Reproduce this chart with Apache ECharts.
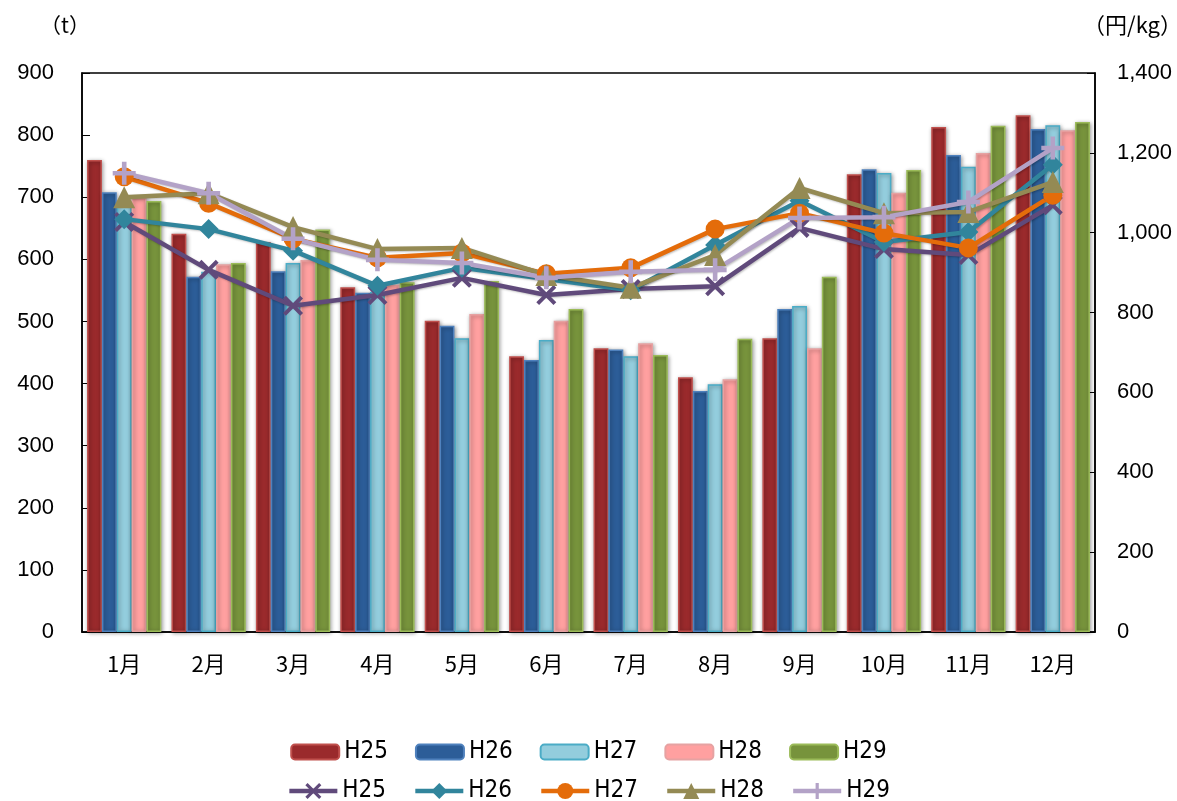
<!DOCTYPE html>
<html>
<head>
<meta charset="utf-8">
<script src="https://cdn.jsdelivr.net/npm/echarts@6/dist/echarts.min.js"></script>
<style>
  html, body { margin: 0; padding: 0; background: #fff; }
  #chart { width: 1177px; height: 801px; }
</style>
</head>
<body>
<div id="chart"></div>
<script>
// categories
const months = ['1月', '2月', '3月', '4月', '5月', '6月', '7月', '8月', '9月', '10月', '11月', '12月']
const years = ['H25', 'H26', 'H27', 'H28', 'H29']

// volume (t), left axis
const volH25 = [760, 641, 628, 555, 501, 444, 457, 410, 473, 737, 813, 832]
const volH26 = [708, 572, 581, 546, 493, 438, 455, 388, 520, 745, 768, 810]
const volH27 = [690, 580, 594, 548, 473, 470, 444, 399, 525, 739, 749, 816]
const volH28 = [700, 592, 599, 559, 512, 501, 465, 407, 457, 707, 771, 808]
const volH29 = [694, 594, 648, 563, 565, 520, 446, 472, 572, 744, 815, 821]

// price (円/kg), right axis
const prH25 = [1027, 907, 817, 844, 887, 844, 859, 866, 1012, 959, 944, 1069]
const prH26 = [1034, 1009, 955, 867, 912, 884, 856, 969, 1080, 977, 1002, 1170]
const prH27 = [1140, 1074, 985, 937, 949, 897, 912, 1009, 1049, 999, 962, 1094]
const prH28 = [1089, 1099, 1014, 959, 962, 894, 862, 944, 1112, 1049, 1052, 1127]
const prH29 = [1149, 1099, 985, 932, 924, 887, 902, 907, 1037, 1039, 1077, 1212]

const volData = [volH25, volH26, volH27, volH28, volH29]
const prData = [prH25, prH26, prH27, prH28, prH29]

const barFill = ['#9A2A2C', '#2C5D98', '#93CDDD', '#FFA0A0', '#77933C']
const barEdge = ['#C0504D', '#4F81BD', '#4BACC6', '#E6A2A2', '#9BBB59']
const lineColor = ['#604A7B', '#31859C', '#E46C0A', '#948A54', '#B3A2C7']

const crossPath = 'path://M0,1.4 L1.4,0 L5,3.6 L8.6,0 L10,1.4 L6.4,5 L10,8.6 L8.6,10 L5,6.4 L1.4,10 L0,8.6 L3.6,5 Z'
const plusPath = 'path://M4,0 L6,0 L6,4 L10,4 L10,6 L6,6 L6,10 L4,10 L4,6 L0,6 L0,4 L4,4 Z'
const symbols = [crossPath, 'diamond', 'circle', 'triangle', plusPath]
const symbolSizes = [20, 20, 19, 22, 23]

const cjk = "'Noto Sans CJK JP', sans-serif"
const num = "'Liberation Sans', sans-serif"
const narrow = "'Liberation Sans Narrow', 'DejaVu Sans Condensed', 'Liberation Sans', sans-serif"

const barSeries = years.map((y, i) => ({
  name: y + '_v',
  type: 'bar',
  yAxisIndex: 0,
  barGap: '0%',
  barCategoryGap: '12%',
  data: volData[i],
  itemStyle: {
    color: barFill[i],
    borderColor: barEdge[i],
    borderWidth: 1.5,
    shadowColor: 'rgba(0,0,0,0.4)',
    shadowBlur: 4,
    shadowOffsetX: 1,
    shadowOffsetY: 1
  }
}))

const lineSeries = years.map((y, i) => ({
  name: y + '_p',
  type: 'line',
  yAxisIndex: 1,
  data: prData[i],
  symbol: symbols[i],
  symbolSize: symbolSizes[i],
  showAllSymbol: true,
  z: 3,
  lineStyle: {
    color: lineColor[i],
    width: 4.5,
    shadowColor: 'rgba(0,0,0,0.25)',
    shadowBlur: 2,
    shadowOffsetX: 1,
    shadowOffsetY: 1
  },
  itemStyle: { color: lineColor[i], borderWidth: 0 }
}))

const legendBase = {
  left: 'center',
  itemWidth: 48,
  itemGap: 27,
  textStyle: { fontFamily: narrow, fontSize: 24, color: '#000' },
  formatter: (name) => name.split('_')[0]
}

const option = {
  animation: false,
  backgroundColor: '#fff',
  grid: {
    left: 82, right: 82, top: 73, bottom: 169,
    show: true, borderColor: '#000', borderWidth: 1.5,
    containLabel: false
  },
  legend: [
    Object.assign({}, legendBase, { top: 735, itemHeight: 15, data: years.map(y => y + '_v') }),
    Object.assign({}, legendBase, {
      top: 774, itemHeight: 20,
      lineStyle: { width: 4.5 },
      data: years.map(y => y + '_p')
    })
  ],
  xAxis: {
    type: 'category',
    data: months,
    axisLine: { lineStyle: { color: '#000', width: 1.5 } },
    axisTick: { show: false },
    axisLabel: { color: '#000', fontFamily: cjk, fontSize: 22, margin: 21 }
  },
  yAxis: [
    {
      type: 'value', min: 0, max: 900, interval: 100,
      axisLine: { show: true, lineStyle: { color: '#000', width: 1.5 } },
      axisTick: { show: true, inside: true, length: 8, lineStyle: { color: '#000' } },
      splitLine: { show: false },
      axisLabel: { color: '#000', fontFamily: num, fontSize: 22, margin: 28 }
    },
    {
      type: 'value', min: 0, max: 1400, interval: 200,
      axisLine: { show: true, lineStyle: { color: '#000', width: 1.5 } },
      axisTick: { show: true, inside: true, length: 8, lineStyle: { color: '#000' } },
      splitLine: { show: false },
      axisLabel: {
        color: '#000', fontFamily: num, fontSize: 22, margin: 22,
        formatter: (v) => v.toLocaleString('en-US')
      }
    }
  ],
  graphic: [
    { type: 'text', left: 40, top: 15, style: { text: '（t）', font: '21px ' + cjk, fill: '#000' } },
    { type: 'text', right: -5, top: 14, style: { text: '（円/kg）', font: '22px ' + cjk, fill: '#000' } }
  ],
  series: barSeries.concat(lineSeries)
}

const chart = echarts.init(document.getElementById('chart'))
chart.setOption(option)
</script>
</body>
</html>
